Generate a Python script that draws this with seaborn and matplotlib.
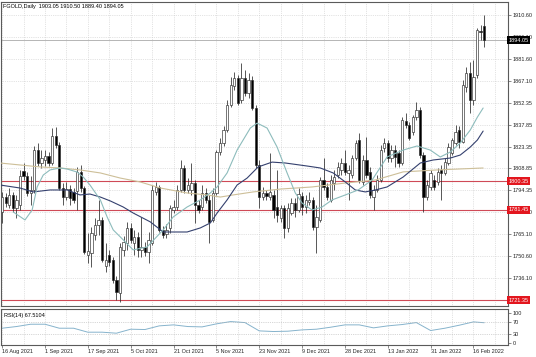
import numpy as np
import pandas as pd
import matplotlib
matplotlib.use("Agg")
import matplotlib.pyplot as plt
import seaborn as sns

# ---- daily candles, FGOLD ----
opens = [1779.9, 1789.8, 1784.5, 1791.2, 1782.5, 1784.5, 1807.1, 1803.8, 1792.5, 1794.5,
         1821.0, 1812.4, 1814.4, 1817.1, 1812.4, 1830.3, 1824.3, 1795.8, 1789.8, 1795.1,
         1793.2, 1793.8, 1806.4, 1795.8, 1751.4, 1752.7, 1764.6, 1771.3, 1774.6, 1744.1,
         1751.4, 1748.0, 1734.8, 1726.2, 1754.7, 1759.3, 1769.3, 1759.3, 1763.3, 1754.7,
         1756.7, 1753.4, 1759.3, 1793.2, 1796.5, 1768.0, 1765.3, 1769.3, 1781.2, 1783.2,
         1794.5, 1809.1, 1794.5, 1794.5, 1799.1, 1784.5, 1783.2, 1792.5, 1787.9, 1774.6,
         1792.5, 1819.7, 1825.7, 1834.3, 1850.9, 1863.5, 1868.8, 1854.2, 1868.8, 1858.8,
         1867.5, 1848.9, 1811.1, 1789.8, 1792.5, 1789.8, 1791.2, 1783.2, 1775.9, 1782.5,
         1769.3, 1779.2, 1785.8, 1781.2, 1790.5, 1783.2, 1786.5, 1787.9, 1769.9, 1774.6,
         1801.1, 1796.5, 1787.9, 1799.1, 1804.4, 1807.8, 1812.4, 1805.8, 1804.4, 1815.7,
         1827.7, 1799.8, 1814.4, 1806.4, 1789.8, 1794.5, 1801.1, 1822.4, 1825.7, 1815.7,
         1821.0, 1819.0, 1812.4, 1840.3, 1837.6, 1832.9, 1842.9, 1847.6, 1817.7, 1789.8,
         1796.5, 1801.1, 1799.8, 1807.8, 1805.8, 1812.4, 1819.0, 1825.7, 1834.3, 1826.3,
         1862.8, 1872.1, 1854.2, 1870.8, 1900.0, 1903.05]
highs = [1793.2, 1792.5, 1795.8, 1793.2, 1791.2, 1807.8, 1812.4, 1806.4, 1803.8, 1823.7,
         1825.7, 1821.0, 1821.0, 1819.7, 1835.6, 1836.3, 1826.3, 1799.1, 1799.8, 1797.8,
         1795.8, 1809.8, 1811.1, 1797.1, 1766.0, 1769.9, 1775.9, 1787.9, 1776.6, 1759.3,
         1754.7, 1750.0, 1737.4, 1759.3, 1764.0, 1773.2, 1772.6, 1768.0, 1766.6, 1776.6,
         1760.0, 1766.6, 1797.8, 1799.8, 1797.8, 1770.6, 1771.9, 1784.5, 1787.9, 1797.8,
         1814.4, 1811.1, 1802.4, 1812.4, 1801.1, 1787.9, 1797.8, 1795.8, 1791.2, 1795.8,
         1821.0, 1829.0, 1836.9, 1854.2, 1869.5, 1872.8, 1870.8, 1878.7, 1874.1, 1872.1,
         1870.1, 1850.9, 1814.4, 1796.5, 1794.5, 1819.0, 1794.5, 1807.8, 1784.5, 1784.5,
         1785.8, 1789.2, 1789.2, 1795.8, 1793.2, 1791.2, 1793.2, 1789.8, 1784.5, 1803.1,
         1815.7, 1799.1, 1804.4, 1807.8, 1813.1, 1815.7, 1821.0, 1811.1, 1817.7, 1827.7,
         1832.3, 1817.7, 1829.7, 1809.8, 1797.8, 1804.4, 1824.3, 1829.0, 1827.7, 1824.3,
         1824.3, 1821.0, 1842.9, 1845.6, 1839.6, 1844.2, 1852.9, 1849.6, 1819.7, 1801.1,
         1807.8, 1804.4, 1809.1, 1811.1, 1815.7, 1825.7, 1829.0, 1837.6, 1836.9, 1867.5,
         1876.0, 1879.4, 1880.7, 1902.0, 1904.0, 1910.50]
lows = [1772.6, 1783.2, 1782.5, 1779.9, 1775.9, 1781.2, 1801.1, 1790.5, 1784.5, 1792.5,
        1810.4, 1809.1, 1810.4, 1810.4, 1811.1, 1822.4, 1794.5, 1784.5, 1787.9, 1784.5,
        1785.8, 1781.2, 1793.2, 1752.0, 1746.0, 1743.4, 1761.3, 1764.6, 1746.7, 1740.1,
        1744.1, 1732.8, 1721.5, 1720.2, 1750.7, 1754.7, 1759.3, 1751.4, 1750.0, 1750.0,
        1750.7, 1746.0, 1758.0, 1791.2, 1766.6, 1762.6, 1762.6, 1766.0, 1779.2, 1781.2,
        1793.2, 1792.5, 1792.5, 1791.2, 1772.6, 1779.2, 1781.2, 1785.8, 1759.3, 1773.2,
        1791.2, 1817.7, 1823.7, 1832.9, 1849.6, 1860.8, 1850.9, 1852.2, 1856.8, 1855.6,
        1847.6, 1809.1, 1782.5, 1787.9, 1787.9, 1787.9, 1775.9, 1773.2, 1773.2, 1762.6,
        1766.6, 1777.9, 1776.6, 1779.9, 1777.9, 1779.2, 1784.5, 1768.0, 1752.7, 1773.2,
        1794.5, 1787.9, 1786.5, 1794.5, 1802.4, 1804.4, 1804.4, 1787.9, 1802.4, 1814.4,
        1799.1, 1797.8, 1802.4, 1789.2, 1781.2, 1793.2, 1799.8, 1819.7, 1813.1, 1813.1,
        1809.8, 1809.8, 1811.1, 1835.6, 1827.7, 1831.0, 1840.9, 1815.7, 1779.9, 1787.9,
        1794.5, 1794.5, 1797.8, 1787.9, 1804.4, 1811.1, 1817.7, 1824.3, 1822.4, 1825.7,
        1859.5, 1845.6, 1850.9, 1868.8, 1894.0, 1889.40]
closes = [1789.8, 1785.8, 1791.2, 1782.5, 1787.9, 1803.8, 1803.8, 1792.5, 1794.5, 1821.0,
          1812.4, 1815.7, 1817.1, 1812.4, 1830.3, 1824.3, 1795.8, 1789.8, 1795.1, 1789.2,
          1787.9, 1806.4, 1795.8, 1753.4, 1754.0, 1766.0, 1771.3, 1774.6, 1748.0, 1748.0,
          1746.7, 1734.8, 1726.8, 1756.7, 1760.0, 1769.3, 1761.3, 1763.3, 1754.7, 1756.7,
          1753.4, 1761.3, 1794.5, 1796.5, 1768.0, 1764.6, 1768.0, 1782.5, 1783.2, 1794.5,
          1809.1, 1794.5, 1797.8, 1799.1, 1784.5, 1781.2, 1792.5, 1787.9, 1773.2, 1792.5,
          1819.7, 1825.7, 1834.3, 1850.9, 1864.2, 1868.8, 1852.2, 1868.8, 1858.8, 1867.5,
          1848.9, 1811.1, 1789.8, 1792.5, 1790.5, 1793.2, 1781.2, 1777.9, 1782.5, 1769.3,
          1782.5, 1785.8, 1781.2, 1791.8, 1783.2, 1787.9, 1787.9, 1769.9, 1776.6, 1801.1,
          1796.5, 1789.8, 1801.1, 1803.1, 1809.8, 1812.4, 1806.4, 1807.8, 1815.7, 1825.7,
          1801.1, 1814.4, 1804.4, 1791.2, 1794.5, 1801.1, 1821.0, 1825.7, 1815.7, 1821.0,
          1816.4, 1812.4, 1840.9, 1837.6, 1829.0, 1842.9, 1847.6, 1817.7, 1789.8, 1797.8,
          1805.8, 1796.5, 1806.4, 1805.8, 1813.1, 1823.0, 1827.7, 1832.9, 1826.3, 1864.2,
          1872.1, 1854.2, 1869.5, 1900.6, 1899.3, 1894.05]

# ---- moving averages (bar position, value) ----
fast_bar = [3.1, 6.4, 8.4, 9.8, 11.5, 13.4, 16.2, 18.2, 21.0, 22.7, 24.6, 27.5, 29.4, 31.1, 33.1,
            36.7, 40.6, 45.1, 47.9, 51.8, 55.5, 58.3, 60.2, 63.0, 65.8, 69.5, 71.4, 74.2, 77.0,
            79.8, 82.1, 84.0, 86.8, 89.6, 92.4, 96.1, 99.7, 103.6, 107.8, 112.3, 116.2, 119.9,
            122.7, 125.5, 128.3, 131.1, 133.1, 134.7]
fast_val = [1779.9, 1774.6, 1781.2, 1796.5, 1804.4, 1807.8, 1809.1, 1808.4, 1806.4, 1803.1,
            1797.8, 1787.9, 1776.6, 1768.0, 1763.3, 1754.7, 1756.7, 1768.0, 1776.6, 1783.2,
            1787.9, 1792.5, 1796.5, 1805.8, 1821.0, 1835.6, 1838.9, 1835.6, 1823.0, 1805.8,
            1792.5, 1785.8, 1781.2, 1783.2, 1787.9, 1791.2, 1794.5, 1801.1, 1816.4, 1821.0,
            1823.7, 1821.0, 1816.4, 1819.7, 1825.7, 1834.3, 1842.9, 1848.9]
slow_bar = [-0.6, 5.0, 8.7, 13.4, 18.2, 21.8, 24.6, 27.5, 30.3, 33.9, 36.7, 41.5, 45.1, 49.9,
            51.8, 55.5, 58.3, 60.2, 63.0, 65.8, 68.6, 71.7, 75.6, 79.3, 85.4, 89.1, 92.7, 96.1,
            98.9, 101.7, 104.5, 107.8, 112.3, 117.1, 120.7, 125.5, 128.3, 131.1, 133.1, 134.7]
slow_val = [1797.8, 1795.8, 1793.2, 1794.5, 1794.5, 1791.2, 1791.8, 1789.8, 1787.2, 1783.2,
            1779.2, 1773.3, 1766.6, 1766.6, 1766.6, 1769.3, 1772.6, 1779.2, 1787.9, 1797.8,
            1802.4, 1809.8, 1813.0, 1812.4, 1810.4, 1809.1, 1805.8, 1799.8, 1794.5, 1793.2,
            1794.5, 1796.5, 1803.1, 1812.4, 1814.4, 1815.7, 1817.7, 1823.0, 1827.7, 1833.6]
long_bar = [-0.6, 5.0, 10.6, 16.2, 21.8, 27.5, 33.1, 38.7, 44.3, 51.8, 57.4, 61.1, 64.7, 70.3,
            77.9, 86.8, 96.1, 104.5, 112.3, 121.8, 134.7]
long_val = [1812.4, 1811.1, 1809.8, 1809.1, 1807.8, 1805.8, 1802.4, 1799.8, 1795.8, 1792.5,
            1791.2, 1789.8, 1791.2, 1793.2, 1795.1, 1796.5, 1799.1, 1801.1, 1806.5, 1807.8, 1809.1]

# ---- RSI(14) ----
rsi_bar = [0, 4, 8, 12, 16, 20, 24, 28, 32, 36, 40, 44, 48, 52, 56, 60, 64, 68, 72, 76,
           80, 84, 88, 92, 96, 100, 104, 108, 112, 116, 120, 124, 128, 132, 135]
rsi_val = [48.8, 54.5, 62.4, 62.4, 48.8, 48.8, 35.2, 35.2, 31.8, 45.4, 44.3, 56.8, 60.2, 54.5,
           53.3, 63.6, 71.5, 68.0, 39.7, 37.5, 38.6, 43.1, 45.4, 52.2, 60.2, 60.2, 50.0, 56.8,
           61.3, 68.0, 40.9, 48.8, 59.0, 70.4, 67.5]
rsi_last = "67.5104"

date_bars = [0, 12, 24, 36, 48, 60, 72, 84, 96, 108, 120, 132]
date_labels = ["16 Aug 2021", "1 Sep 2021", "17 Sep 2021", "5 Oct 2021", "21 Oct 2021",
               "5 Nov 2021", "23 Nov 2021", "9 Dec 2021", "28 Dec 2021", "13 Jan 2022",
               "31 Jan 2022", "16 Feb 2022"]
price_ticks = [1910.60, 1896.10, 1881.60, 1867.10, 1852.35, 1837.85, 1823.35, 1808.85,
               1794.35, 1779.60, 1765.10, 1750.60, 1736.10]
level_lines = [1800.35, 1781.45, 1721.35]
last_price = 1894.05
header = "FGOLD,Daily  1903.05 1910.50 1889.40 1894.05"

df = pd.DataFrame({"open": opens, "high": highs, "low": lows, "close": closes})
df["bar"] = np.arange(len(df))
df["up"] = df["close"] >= df["open"]
df["body_lo"] = df[["open", "close"]].min(axis=1)
df["body_h"] = (df["close"] - df["open"]).abs().clip(lower=0.5)

sns.set_theme(style="white")
plt.rcParams["font.family"] = ["Liberation Sans", "DejaVu Sans"]
fs = 4.0
frame = "#5a5a5a"
gridc = "#c9c9c9"

fig = plt.figure(figsize=(5.36, 3.57), dpi=100)
ax = fig.add_axes([0.002, 0.143, 0.946, 0.851])
ax_rsi = fig.add_axes([0.002, 0.034, 0.946, 0.101])

# candles
ax.vlines(df["bar"], df["low"], df["high"], color="#2a2a2a", lw=0.55, zorder=2)
ax.bar(df["bar"], df["body_h"], bottom=df["body_lo"], width=0.64,
       color=np.where(df["up"], "white", "black"), edgecolor="#2a2a2a",
       linewidth=0.45, zorder=2.2)

# moving averages
sns.lineplot(x=long_bar, y=long_val, ax=ax, color="#cdbf98", lw=0.8, estimator=None, sort=False, zorder=3)
sns.lineplot(x=slow_bar, y=slow_val, ax=ax, color="#34406e", lw=0.8, estimator=None, sort=False, zorder=3)
sns.lineplot(x=fast_bar, y=fast_val, ax=ax, color="#8dbcbc", lw=0.8, estimator=None, sort=False, zorder=3)

# levels and current price
for v in level_lines:
    ax.axhline(v, color="#cf4a57", lw=0.8, zorder=1.8)
    ax.text(1.0, v, f"{v:.2f}", transform=ax.get_yaxis_transform(), ha="left", va="center",
            fontsize=fs, color="white", zorder=6, clip_on=False,
            bbox=dict(boxstyle="square,pad=0.25", fc="#e3161e", ec="none"))
ax.axhline(last_price, color="#b5b5b5", lw=0.7, zorder=1.8)
ax.text(1.0, last_price, f"{last_price:.2f}", transform=ax.get_yaxis_transform(), ha="left",
        va="center", fontsize=fs, color="white", zorder=6, clip_on=False,
        bbox=dict(boxstyle="square,pad=0.25", fc="black", ec="none"))

ax.set_xlim(-0.3, 141.7)
ax.set_ylim(1717.5, 1919.2)
ax.yaxis.tick_right()
ax.set_yticks(price_ticks)
ax.set_yticklabels([f"{t:.2f}" for t in price_ticks])
ax.set_xticks(date_bars)
ax.set_xticks(np.arange(0, 142, 6), minor=True)
ax.tick_params(axis="x", which="both", length=0, labelbottom=False)
ax.tick_params(axis="y", labelsize=fs, length=2, width=0.5, pad=1, color=frame, right=True)
ax.grid(True, axis="both", which="major", ls=":", lw=0.5, color=gridc)
ax.grid(True, axis="x", which="minor", ls=":", lw=0.5, color=gridc)
ax.set_xlabel("")
ax.set_ylabel("")
for s in ax.spines.values():
    s.set_color(frame)
    s.set_linewidth(0.8)

fig.text(0.006, 0.981, header, fontsize=fs, color="black", ha="left", va="center")

# RSI panel
sns.lineplot(x=rsi_bar, y=rsi_val, ax=ax_rsi, color="#86b3cc", lw=0.7, estimator=None, sort=False)
for lvl in (70, 30):
    ax_rsi.axhline(lvl, color="#b0b0b0", lw=0.5, ls=":")
ax_rsi.set_xlim(-0.3, 141.7)
ax_rsi.set_ylim(-8, 115)
ax_rsi.yaxis.tick_right()
ax_rsi.set_yticks([0, 30, 70, 100])
ax_rsi.set_xticks(date_bars)
ax_rsi.set_xticklabels(date_labels, ha="left")
ax_rsi.set_xticks(np.arange(0, 142, 6), minor=True)
ax_rsi.tick_params(axis="x", which="major", labelsize=fs, length=2, width=0.5, pad=1,
                   color=frame, bottom=True)
ax_rsi.tick_params(axis="x", which="minor", length=0)
ax_rsi.tick_params(axis="y", labelsize=fs, length=2, width=0.5, pad=1, color=frame, right=True)
ax_rsi.grid(True, axis="x", which="both", ls=":", lw=0.5, color=gridc)
ax_rsi.set_xlabel("")
ax_rsi.set_ylabel("")
for s in ax_rsi.spines.values():
    s.set_color(frame)
    s.set_linewidth(0.8)
ax_rsi.text(0.005, 0.82, f"RSI(14) {rsi_last}", transform=ax_rsi.transAxes,
            fontsize=fs, ha="left", va="center", color="black")

fig.savefig("out.png", dpi=100)
